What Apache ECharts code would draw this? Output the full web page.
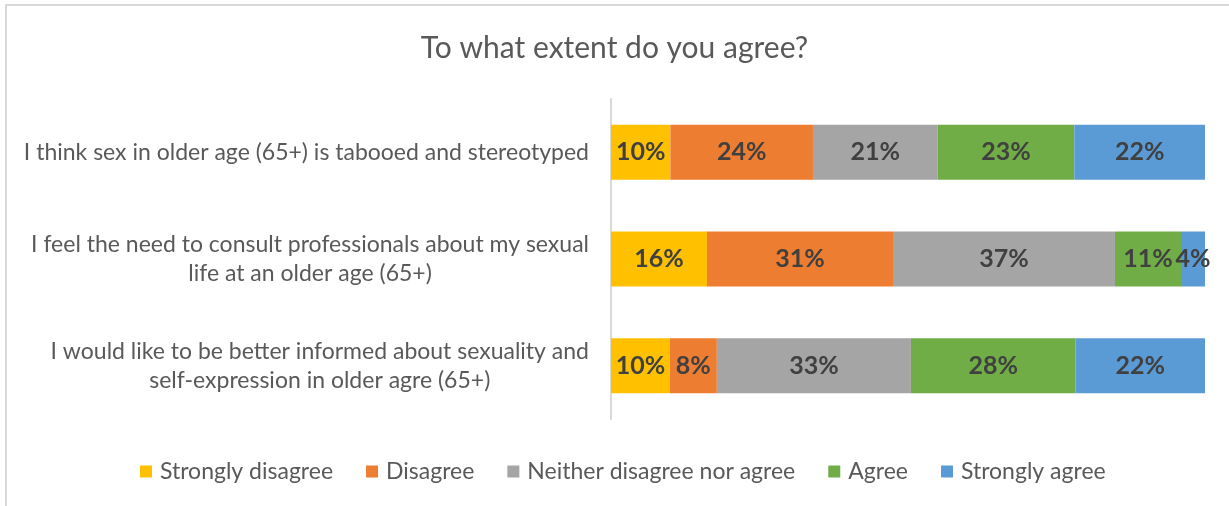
<!DOCTYPE html>
<html>
<head>
<meta charset="utf-8">
<script src="https://cdn.jsdelivr.net/npm/echarts@6/dist/echarts.min.js"></script>
<style>
  html, body { margin: 0; padding: 0; background: #ffffff; }
  #chart { width: 1229px; height: 506px; }
</style>
</head>
<body>
<div id="chart"></div>
<script>
// Survey statements (top to bottom)
const categories = [
  'I think sex in older age (65+) is tabooed and stereotyped',
  'I feel the need to consult professionals about my sexual\nlife at an older age (65+)',
  'I would like to be better informed about sexuality and\nself-expression in older agre (65+)'
];

// Answer options, in stacking order
const seriesNames = ['Strongly disagree', 'Disagree', 'Neither disagree nor agree', 'Agree', 'Strongly agree'];

// Share of respondents (%) per statement
const stronglyDisagree = [10, 16, 10];
const disagree         = [24, 31, 8];
const neither          = [21, 37, 33];
const agree            = [23, 11, 28];
const stronglyAgree    = [22, 4, 22];

const seriesValues = [stronglyDisagree, disagree, neither, agree, stronglyAgree];
const colors = ['#FFC000', '#ED7D31', '#A5A5A5', '#70AD47', '#5B9BD5'];

// 100% stacked: each row is scaled so its segments fill the full width
const rowTotals = categories.map((_, i) => seriesValues.reduce((s, arr) => s + arr[i], 0));

const FONT = 'Lato';
const TEXT = '#595959';

const chart = echarts.init(document.getElementById('chart'), null, { renderer: 'canvas' });

const series = seriesNames.map((name, k) => ({
  name: name,
  type: 'bar',
  stack: 'total',
  barWidth: 55,
  itemStyle: { color: colors[k] },
  label: {
    show: true,
    position: 'inside',
    color: '#404040',
    fontFamily: FONT,
    fontWeight: 'bold',
    fontSize: 25,
    formatter: p => seriesValues[k][p.dataIndex] + '%'
  },
  emphasis: { disabled: true },
  data: seriesValues[k].map((v, i) => v / rowTotals[i] * 100)
}));

chart.setOption({
  animation: false,
  backgroundColor: '#ffffff',
  title: {
    text: 'To what extent do you agree?',
    left: 'center',
    top: 28,
    textStyle: { fontFamily: FONT, fontSize: 30, fontWeight: 'normal', color: TEXT }
  },
  legend: {
    left: 135,
    top: 455,
    itemWidth: 12,
    itemHeight: 12,
    itemGap: 33,
    icon: 'rect',
    textStyle: { fontFamily: FONT, fontSize: 23, color: TEXT, padding: [0, 0, 0, 3] },
    data: seriesNames
  },
  grid: { left: 611, right: 24, top: 99, height: 320, containLabel: false },
  xAxis: {
    type: 'value',
    min: 0,
    max: 100,
    show: false
  },
  yAxis: {
    type: 'category',
    inverse: true,
    data: categories,
    axisLine: { show: true, lineStyle: { color: '#D9D9D9', width: 2 } },
    axisTick: { show: false },
    splitLine: { show: false },
    axisLabel: {
      margin: 22,
      formatter: v => v.split('\n').map(line => '{c|' + line + '}').join('\n'),
      rich: {
        c: { align: 'center', fontFamily: FONT, fontSize: 23, color: TEXT, lineHeight: 29 }
      }
    }
  },
  graphic: [{
    type: 'rect',
    silent: true,
    shape: { x: 6, y: 5, width: 1400, height: 700 },
    style: { fill: 'none', stroke: '#D9D9D9', lineWidth: 2 }
  }],
  series: series
});
</script>
</body>
</html>
